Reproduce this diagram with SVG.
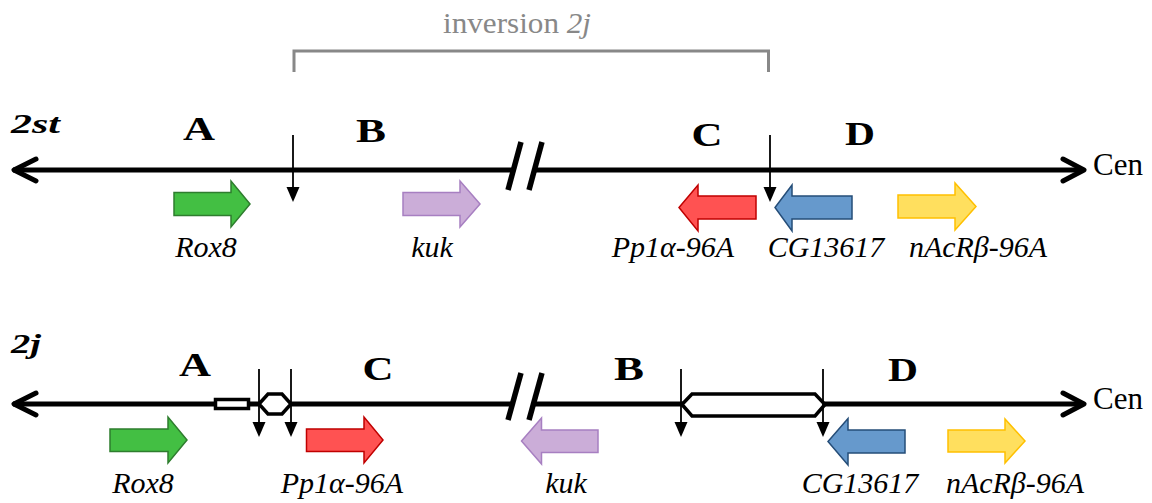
<svg xmlns="http://www.w3.org/2000/svg" width="1152" height="503" viewBox="0 0 1152 503">
<defs>
<style>
.chrom{stroke:#000;stroke-width:5;fill:none}
.head{stroke:#000;stroke-width:5;fill:none;stroke-linecap:round;stroke-linejoin:round}
.brk{stroke:#000;stroke-width:5.5;stroke-linecap:butt}
.bp{stroke:#000;stroke-width:1.8;fill:none}
.bph{fill:#000}
.seg{fill:#fff;stroke:#000;stroke-width:3.5;stroke-linejoin:miter}
.region{font-family:"Liberation Serif","Times New Roman",serif;font-weight:bold;font-size:34px;text-anchor:middle}
.gene{font-family:"Liberation Serif","Times New Roman",serif;font-style:italic;font-size:30px;text-anchor:middle}
.cen{font-family:"Liberation Serif","Times New Roman",serif;font-size:31px}
.title{font-family:"Liberation Serif","Times New Roman",serif;font-style:italic;font-weight:bold;font-size:28px}
.inv{font-family:"Liberation Serif","Times New Roman",serif;font-size:29px;fill:#888}
.green{fill:#43BF43;stroke:#2E7D2E;stroke-width:1.5}
.red{fill:#FF5252;stroke:#C00000;stroke-width:1.5}
.purple{fill:#CBADD8;stroke:#A77FC1;stroke-width:1.5}
.blue{fill:#6699CC;stroke:#254D78;stroke-width:1.5}
.yellow{fill:#FFDF5E;stroke:#FFC000;stroke-width:1.5}
</style>
</defs>
<rect width="1152" height="503" fill="#fff"/>

<g id="connectors">
  <polyline points="294,72 294,51 768.5,51 768.5,72" fill="none" stroke="#888" stroke-width="3"/>
  <line class="chrom" x1="13" y1="170" x2="514" y2="170"/>
  <line class="chrom" x1="534" y1="170" x2="1083" y2="170"/>
  <polyline class="head" points="36,159 14,170 36,181"/>
  <polyline class="head" points="1063,159 1084,170 1063,181"/>
  <line class="brk" x1="521" y1="142" x2="508" y2="190"/>
  <line class="brk" x1="542" y1="142" x2="529" y2="190"/>
  <line class="chrom" x1="13" y1="404" x2="514" y2="404"/>
  <line class="chrom" x1="534" y1="404" x2="1083" y2="404"/>
  <polyline class="head" points="36,393 14,404 36,415"/>
  <polyline class="head" points="1063,393 1084,404 1063,415"/>
  <line class="brk" x1="521" y1="373" x2="508" y2="420"/>
  <line class="brk" x1="542" y1="373" x2="529" y2="420"/>
</g>

<g id="segments-2j">
  <rect class="seg" x="215.5" y="399.5" width="33" height="9"/>
  <polygon class="seg" points="259,404 268,394 282,394 291,404 282,414 268,414"/>
  <polygon class="seg" points="682,404.5 692,394 815,394 825,404.5 815,416 692,416"/>
</g>

<g id="breakpoints">
  <line class="bp" x1="293" y1="135" x2="293" y2="190"/>
  <polygon class="bph" points="286.5,187 299.5,187 293,202"/>
  <line class="bp" x1="770" y1="135" x2="770" y2="190"/>
  <polygon class="bph" points="763.5,187 776.5,187 770,202"/>
  <line class="bp" x1="259" y1="369" x2="259" y2="425"/>
  <polygon class="bph" points="252.5,422 265.5,422 259,437"/>
  <line class="bp" x1="291" y1="369" x2="291" y2="425"/>
  <polygon class="bph" points="284.5,422 297.5,422 291,437"/>
  <line class="bp" x1="681" y1="369" x2="681" y2="425"/>
  <polygon class="bph" points="674.5,422 687.5,422 681,437"/>
  <line class="bp" x1="823" y1="369" x2="823" y2="425"/>
  <polygon class="bph" points="816.5,422 829.5,422 823,437"/>
</g>

<g id="label-inversion">
  <text class="inv" x="443" y="33" textLength="148" lengthAdjust="spacingAndGlyphs">inversion <tspan font-style="italic">2j</tspan></text>
</g>

<g id="row-2st">
  <text class="title" x="11" y="133" textLength="49" lengthAdjust="spacingAndGlyphs">2st</text>
  <text class="region" x="199" y="140" textLength="32" lengthAdjust="spacingAndGlyphs">A</text>
  <text class="region" x="371" y="142" textLength="30" lengthAdjust="spacingAndGlyphs">B</text>
  <text class="region" x="707" y="146" textLength="31" lengthAdjust="spacingAndGlyphs">C</text>
  <text class="region" x="860" y="145" textLength="30" lengthAdjust="spacingAndGlyphs">D</text>
  <text class="cen" x="1093" y="175">Cen</text>
</g>

<g id="gene-2st-Rox8">
  <path class="green" d="M174,192.5 H231 V181 L250,204 L231,227 V215.5 H174 Z"/>
  <text class="gene" x="206" y="257">Rox8</text>
</g>
<g id="gene-2st-kuk">
  <path class="purple" d="M403,192.5 H460 V181 L480,204 L460,227 V215.5 H403 Z"/>
  <text class="gene" x="432" y="257">kuk</text>
</g>
<g id="gene-2st-Pp1a">
  <path class="red" d="M756,196 H698 V185 L679,207.5 L698,231 V219 H756 Z"/>
  <text class="gene" x="673" y="257">Pp1α-96A</text>
</g>
<g id="gene-2st-CG13617">
  <path class="blue" d="M852,196 H792 V185 L775,207.5 L792,231 V219 H852 Z"/>
  <text class="gene" x="826" y="257">CG13617</text>
</g>
<g id="gene-2st-nAcRb">
  <path class="yellow" d="M898,195 H955 V183 L976,206.5 L955,230 V218 H898 Z"/>
  <text class="gene" x="978" y="257">nAcRβ-96A</text>
</g>

<g id="row-2j">
  <text class="title" x="11" y="353" textLength="30" lengthAdjust="spacingAndGlyphs">2j</text>
  <text class="region" x="195" y="376" textLength="32" lengthAdjust="spacingAndGlyphs">A</text>
  <text class="region" x="378" y="380" textLength="31" lengthAdjust="spacingAndGlyphs">C</text>
  <text class="region" x="629" y="380" textLength="30" lengthAdjust="spacingAndGlyphs">B</text>
  <text class="region" x="903" y="381" textLength="30" lengthAdjust="spacingAndGlyphs">D</text>
  <text class="cen" x="1093" y="409">Cen</text>
</g>

<g id="gene-2j-Rox8">
  <path class="green" d="M110,429 H168 V417 L187,440 L168,463 V451.5 H110 Z"/>
  <text class="gene" x="143" y="493">Rox8</text>
</g>
<g id="gene-2j-Pp1a">
  <path class="red" d="M306.5,429 H364 V417 L383,440 L364,463 V451.5 H306.5 Z"/>
  <text class="gene" x="342" y="493">Pp1α-96A</text>
</g>
<g id="gene-2j-kuk">
  <path class="purple" d="M598,430 H541.5 V418 L521.5,441 L541.5,464 V452.5 H598 Z"/>
  <text class="gene" x="566" y="493">kuk</text>
</g>
<g id="gene-2j-CG13617">
  <path class="blue" d="M905,430 H848 V418.5 L828,441.5 L848,465 V453 H905 Z"/>
  <text class="gene" x="860" y="493">CG13617</text>
</g>
<g id="gene-2j-nAcRb">
  <path class="yellow" d="M948,430 H1005 V419 L1025,441 L1005,463 V452 H948 Z"/>
  <text class="gene" x="1015" y="493">nAcRβ-96A</text>
</g>
</svg>
